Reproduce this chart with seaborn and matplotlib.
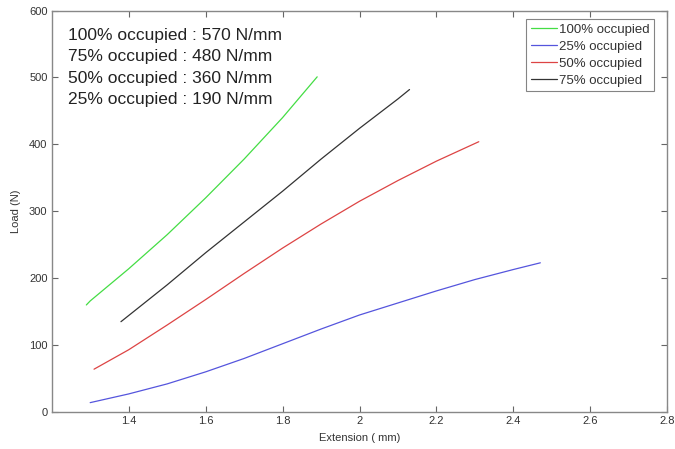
import matplotlib
matplotlib.use("Agg")
import matplotlib.pyplot as plt
import seaborn as sns
import pandas as pd
import numpy as np

# Data
x_100 = [1.29, 1.3, 1.4, 1.5, 1.6, 1.7, 1.8, 1.89]
y_100 = [160, 166, 214, 265, 320, 378, 440, 501]

x_75 = [1.38, 1.5, 1.6, 1.7, 1.8, 1.9, 2.0, 2.1, 2.13]
y_75 = [135, 190, 238, 284, 330, 378, 424, 468, 482]

x_50 = [1.31, 1.4, 1.5, 1.6, 1.7, 1.8, 1.9, 2.0, 2.1, 2.2, 2.31]
y_50 = [64, 93, 130, 168, 207, 245, 281, 315, 346, 375, 404]

x_25 = [1.3, 1.4, 1.5, 1.6, 1.7, 1.8, 1.9, 2.0, 2.1, 2.2, 2.3, 2.4, 2.47]
y_25 = [14, 27, 42, 60, 80, 102, 124, 145, 163, 181, 198, 213, 223]

series_names = ["100% occupied", "25% occupied", "50% occupied", "75% occupied"]
series_colors = ["#44dd44", "#5555dd", "#dd4444", "#333333"]

annotations = [
    "100% occupied : 570 N/mm",
    "75% occupied : 480 N/mm",
    "50% occupied : 360 N/mm",
    "25% occupied : 190 N/mm",
]

x_ticks = [1.4, 1.6, 1.8, 2.0, 2.2, 2.4, 2.6, 2.8]
x_tick_labels = ["1.4", "1.6", "1.8", "2", "2.2", "2.4", "2.6", "2.8"]
y_ticks = [0, 100, 200, 300, 400, 500, 600]

frames = []
for name, xs, ys in [("100% occupied", x_100, y_100),
                     ("25% occupied", x_25, y_25),
                     ("50% occupied", x_50, y_50),
                     ("75% occupied", x_75, y_75)]:
    frames.append(pd.DataFrame({"Extension": xs, "Load": ys, "series": name}))
df = pd.concat(frames, ignore_index=True)

sns.set_style("white")
plt.rcParams["font.family"] = ["Liberation Sans", "DejaVu Sans"]

fig = plt.figure(figsize=(6.75, 4.49), dpi=100)
ax = fig.add_axes([0.0766, 0.0824, 0.912, 0.894])

sns.lineplot(data=df, x="Extension", y="Load", hue="series",
             hue_order=series_names, palette=series_colors,
             linewidth=0.9, ax=ax, sort=False, estimator=None)

ax.set_xlim(1.2, 2.8)
ax.set_ylim(0, 600)
ax.set_xticks(x_ticks)
ax.set_xticklabels(x_tick_labels)
ax.set_yticks(y_ticks)
ax.tick_params(direction="in", length=4, width=0.8, color="#666666",
               labelsize=8, labelcolor="#333333", top=True, right=True,
               bottom=True, left=True, pad=3)
for sp in ax.spines.values():
    sp.set_visible(True)
    sp.set_color("#888888")
    sp.set_linewidth(1.0)

ax.set_xlabel("Extension ( mm)", fontsize=8, color="#333333", labelpad=5)
ax.set_ylabel("Load (N)", fontsize=8, color="#333333", labelpad=6)

for i, t in enumerate(annotations):
    ax.text(0.027, 0.937 - i * 0.0525, t, transform=ax.transAxes,
            fontsize=12.5, color="#222222", va="center", ha="left")

leg = ax.legend(loc="upper right", bbox_to_anchor=(0.983, 0.985),
                fontsize=9.5, frameon=True, fancybox=False,
                handlelength=2.0, handletextpad=0.15, borderpad=0.35,
                labelspacing=0.35, borderaxespad=0.2)
leg.get_frame().set_edgecolor("#666666")
leg.get_frame().set_linewidth(0.8)
for txt in leg.get_texts():
    txt.set_color("#333333")

fig.savefig("out.png", dpi=100)
